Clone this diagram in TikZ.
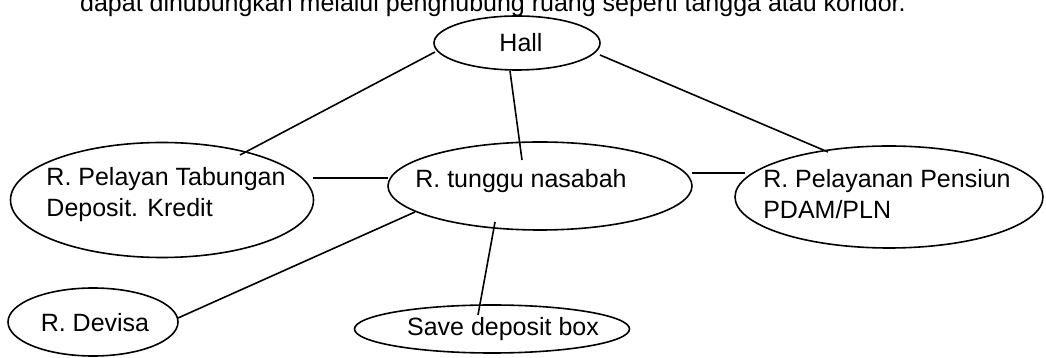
\documentclass[tikz,border=0pt]{standalone}
\usepackage{fontspec}
\setmainfont{Liberation Sans}
\usetikzlibrary{shapes.geometric,calc}
\begin{document}
\begin{tikzpicture}[x=1pt,y=1pt,
  room/.style={draw,ellipse,line width=1.6pt,inner sep=0pt},
  lbl/.style={font=\fontsize{25}{31}\selectfont,align=left,inner sep=0pt},
  link/.style={line width=1.6pt}]
\useasboundingbox (0,0) rectangle (1046,358);
\fill[white] (0,0) rectangle (1046,358);
% top (cropped) line of running text
\node[font=\fontsize{25}{28}\selectfont,anchor=base east,inner sep=0pt] (cap) at (906,346) {dapat dihubungkan melalui penghubung ruang seperti tangga atau koridor.};
% rooms
\node[room,minimum width=166pt,minimum height=54pt] (hall) at (517,315) {};
\node[room,minimum width=303pt,minimum height=115pt] (tab) at (162,158) {};
\node[room,minimum width=304pt,minimum height=88pt] (tunggu) at (540,172) {};
\node[room,minimum width=308pt,minimum height=102pt] (pensiun) at (889,161) {};
\node[room,minimum width=170pt,minimum height=68pt] (devisa) at (93,36) {};
\node[room,minimum width=275pt,minimum height=48pt] (save) at (492,29) {};
% labels
\node[lbl] (thall) at ($(hall.center)+(4,0)$) {Hall};
\node[lbl] (ttab) at ($(tab.center)+(4,5)$) {R. Pelayan Tabungan\\Deposit. Kredit};
\node[lbl] (ttunggu) at ($(tunggu.center)+(-19,5)$) {R. tunggu nasabah};
\node[lbl] (tpensiun) at ($(pensiun.center)+(-2,3)$) {R. Pelayanan Pensiun\\PDAM/PLN};
\node[lbl] (tdevisa) at ($(devisa.center)+(2,-1)$) {R. Devisa};
\node[lbl] (tsave) at ($(save.center)+(11,0)$) {Save deposit box};
% connectors
\draw[link] ($(hall.center)+(-82,-9)$) -- ($(tab.center)+(78,45)$);
\draw[link] ($(hall.center)+(-7,-28)$) -- ($(tunggu.center)+(-18,26)$);
\draw[link] ($(hall.center)+(83,-12)$) -- ($(pensiun.center)+(-61,45)$);
\draw[link] ($(tab.center)+(151,22)$) -- ($(tunggu.center)+(-152,8)$);
\draw[link] ($(tunggu.center)+(152,13)$) -- ($(pensiun.center)+(-144,24)$);
\draw[link] ($(tunggu.center)+(-125,-26)$) -- ($(devisa.center)+(85,4)$);
\draw[link] ($(tunggu.center)+(-45,-36)$) -- ($(save.center)+(-14,14)$);
\end{tikzpicture}
\end{document}
